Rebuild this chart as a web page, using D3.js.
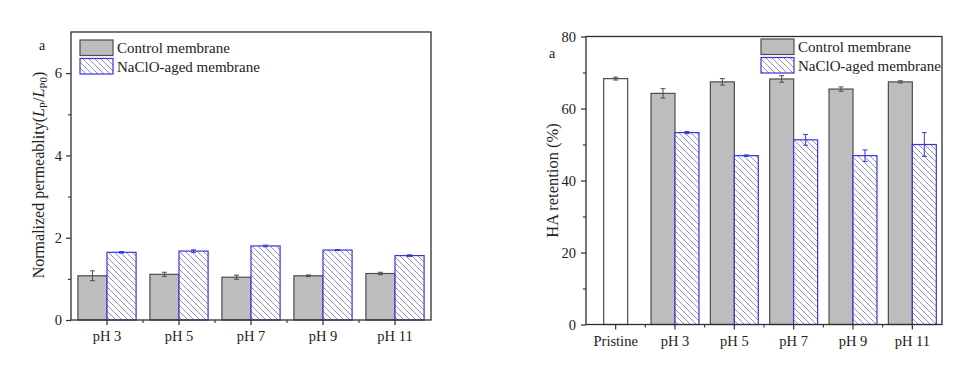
<!DOCTYPE html>
<html><head><meta charset="utf-8">
<script src="https://cdn.jsdelivr.net/npm/d3@7"></script>
<style>
html,body{margin:0;padding:0;background:#fff;}
svg text{font-family:"Liberation Serif","Times New Roman",serif;fill:#222;}
</style></head>
<body>
<svg id="chart" width="968" height="369"></svg>
<script>
// ---- data ----
const leftCategories = ["pH 3","pH 5","pH 7","pH 9","pH 11"];
const leftControl = [1.075, 1.11, 1.04, 1.075, 1.13];
const leftControlErr = [0.12, 0.05, 0.05, 0.02, 0.03];
const leftAged = [1.645, 1.675, 1.80, 1.70, 1.565];
const leftAgedErr = [0.02, 0.03, 0.02, 0.01, 0.02];
const leftYTicks = [0, 2, 4, 6];

const rightCategories = ["Pristine","pH 3","pH 5","pH 7","pH 9","pH 11"];
const pristineValue = [68.3];
const pristineErr = [0.4];
const rightControl = [64.2, 67.4, 68.2, 65.4, 67.4];
const rightControlErr = [1.3, 0.9, 0.9, 0.6, 0.3];
const rightAged = [53.3, 46.9, 51.3, 46.9, 50.0];
const rightAgedErr = [0.3, 0.2, 1.5, 1.6, 3.3];
const rightYTicks = [0, 20, 40, 60, 80];

const seriesNames = ["Control membrane","NaClO-aged membrane"];

// ---- styles ----
const C = {axis:"#2e2e2e", ctrlFill:"#bdbdbd", ctrlStroke:"#4d4d4d", agedStroke:"#3535e0", hatch:"#9090d0", text:"#222"};
const FONT = "Liberation Serif";

const svg = d3.select("#chart");
const defs = svg.append("defs");
const pat = defs.append("pattern").attr("id","hatch").attr("patternUnits","userSpaceOnUse")
  .attr("width",6).attr("height",6);
pat.append("rect").attr("width",6).attr("height",6).attr("fill","#fff");
pat.append("path").attr("d","M0,0L6,6M-1,5L1,7M5,-1L7,1").attr("stroke",C.hatch).attr("stroke-width",1);

function panel(opt){
  const g = svg.append("g");
  const x = d3.scaleBand().domain(opt.categories).range([opt.x0, opt.x1]);
  const y = d3.scaleLinear().domain(opt.yDomain).range([opt.yb, opt.yt]);
  const bw = x.step()*opt.barFrac;

  const ctrlData = opt.control.map((v,i)=>({cat:opt.pHcats[i], v, e:opt.controlErr[i]}));
  const agedData = opt.aged.map((v,i)=>({cat:opt.pHcats[i], v, e:opt.agedErr[i]}));
  const cx = d => x(d.cat)+x.bandwidth()/2;

  if(opt.pristine){
    const pd = [{cat:"Pristine", v:opt.pristine[0], e:opt.pristineErr[0]}];
    g.selectAll(".pb").data(pd).join("rect")
      .attr("x",d=>cx(d)-bw/2).attr("width",bw)
      .attr("y",d=>y(d.v)).attr("height",d=>y(0)-y(d.v))
      .attr("fill","#fff").attr("stroke",C.ctrlStroke).attr("stroke-width",1.2);
    errBars(g, pd, d=>cx(d), y, C.ctrlStroke);
  }
  g.selectAll(".cb").data(ctrlData).join("rect")
    .attr("x",d=>cx(d)-bw).attr("width",bw)
    .attr("y",d=>y(d.v)).attr("height",d=>y(0)-y(d.v))
    .attr("fill",C.ctrlFill).attr("stroke",C.ctrlStroke).attr("stroke-width",1.2);
  g.selectAll(".ab").data(agedData).join("rect")
    .attr("x",d=>cx(d)).attr("width",bw)
    .attr("y",d=>y(d.v)).attr("height",d=>y(0)-y(d.v))
    .attr("fill","url(#hatch)").attr("stroke",C.agedStroke).attr("stroke-width",1.2);
  errBars(g, ctrlData, d=>cx(d)-bw/2, y, C.ctrlStroke);
  errBars(g, agedData, d=>cx(d)+bw/2, y, C.agedStroke);

  g.append("rect").attr("x",opt.x0).attr("y",opt.yt).attr("width",opt.x1-opt.x0).attr("height",opt.yb-opt.yt)
    .attr("fill","none").attr("stroke",C.axis).attr("stroke-width",1.3);

  const yAx = d3.axisLeft(y).tickValues(opt.yTicks).tickSize(5).tickPadding(opt.yPad).tickFormat(d3.format("d"));
  const ya = g.append("g").attr("transform",`translate(${opt.x0},0)`).call(yAx);
  ya.select(".domain").remove();
  ya.selectAll("line").attr("stroke",C.axis).attr("stroke-width",1.2);
  ya.selectAll("text").attr("font-family",FONT).attr("font-size",opt.tickFont).attr("fill",C.text);
  const minor = d3.axisLeft(y).tickValues(opt.yMinor).tickSize(3).tickFormat("");
  const ym = g.append("g").attr("transform",`translate(${opt.x0},0)`).call(minor);
  ym.select(".domain").remove();
  ym.selectAll("line").attr("stroke",C.axis).attr("stroke-width",1.1);

  const xAx = d3.axisBottom(x).tickSize(5).tickPadding(opt.xPad);
  const xa = g.append("g").attr("transform",`translate(0,${opt.yb})`).call(xAx);
  xa.select(".domain").remove();
  xa.selectAll("line").attr("stroke",C.axis).attr("stroke-width",1.2);
  xa.selectAll("text").attr("font-family",FONT).attr("font-size",opt.tickFont).attr("fill",C.text);
  const bounds = opt.categories.slice(1).map(c=>x(c));
  g.selectAll(".xm").data(bounds).join("line")
    .attr("x1",d=>d).attr("x2",d=>d).attr("y1",opt.yb).attr("y2",opt.yb+3)
    .attr("stroke",C.axis).attr("stroke-width",1.1);

  g.append("text").attr("transform",`translate(${opt.titleX},${(opt.yt+opt.yb)/2+opt.titleDy}) rotate(-90)`)
    .attr("text-anchor","middle").attr("font-size",opt.titleFont).attr("font-family",FONT)
    .call(opt.titleFn);

  g.append("text").attr("x",opt.aX).attr("y",opt.aY).attr("text-anchor","middle")
    .attr("font-size",14).attr("font-family",FONT).text("a");

  const lg = g.append("g");
  const items = [{n:seriesNames[0], fill:C.ctrlFill, stroke:C.ctrlStroke},{n:seriesNames[1], fill:"url(#hatch)", stroke:C.agedStroke}];
  items.forEach((it,i)=>{
    lg.append("rect").attr("x",opt.legX).attr("y",opt.legY+i*18.5).attr("width",33).attr("height",15.5)
      .attr("fill",it.fill).attr("stroke",it.stroke).attr("stroke-width",1.2);
    lg.append("text").attr("x",opt.legX+37).attr("y",opt.legY+i*18.5+13)
      .attr("font-size",15).attr("font-family",FONT).text(it.n);
  });
}

function errBars(g, data, xf, y, color){
  const eg = g.append("g").attr("stroke",color).attr("stroke-width",1);
  eg.selectAll(".ev").data(data).join("line")
    .attr("x1",xf).attr("x2",xf).attr("y1",d=>y(d.v+d.e)).attr("y2",d=>y(d.v-d.e));
  eg.selectAll(".et").data(data).join("line")
    .attr("x1",d=>xf(d)-2.5).attr("x2",d=>xf(d)+2.5).attr("y1",d=>y(d.v+d.e)).attr("y2",d=>y(d.v+d.e));
  eg.selectAll(".eb").data(data).join("line")
    .attr("x1",d=>xf(d)-2.5).attr("x2",d=>xf(d)+2.5).attr("y1",d=>y(d.v-d.e)).attr("y2",d=>y(d.v-d.e));
}

panel({
  categories:leftCategories, pHcats:leftCategories,
  control:leftControl, controlErr:leftControlErr, aged:leftAged, agedErr:leftAgedErr,
  x0:71, x1:431, yt:32, yb:320, yDomain:[0,7], yTicks:leftYTicks, yMinor:[1,3,5],
  barFrac:0.404, yPad:4, xPad:6, tickFont:14.5,
  titleX:44, titleDy:-1, titleFont:16,
  titleFn: t=>{
    t.append("tspan").text("Normalized permeablity(");
    t.append("tspan").attr("font-style","italic").text("L");
    t.append("tspan").attr("font-size",11).attr("dy",3).text("P");
    t.append("tspan").attr("dy",-3).text("/");
    t.append("tspan").attr("font-style","italic").text("L");
    t.append("tspan").attr("font-size",11).attr("dy",3).text("P0");
    t.append("tspan").attr("dy",-3).text(")");
  },
  aX:42, aY:50, legX:80, legY:40
});

panel({
  categories:rightCategories, pHcats:rightCategories.slice(1), pristine:pristineValue, pristineErr:pristineErr,
  control:rightControl, controlErr:rightControlErr, aged:rightAged, agedErr:rightAgedErr,
  x0:586, x1:942, yt:36.5, yb:324.5, yDomain:[0,80], yTicks:rightYTicks, yMinor:[10,30,50,70],
  barFrac:0.404, yPad:5, xPad:6, tickFont:14.5,
  titleX:558, titleDy:0, titleFont:16.5,
  titleFn: t=>{ t.text("HA retention (%)"); },
  aX:552, aY:58, legX:761, legY:39
});
</script>
</body></html>
